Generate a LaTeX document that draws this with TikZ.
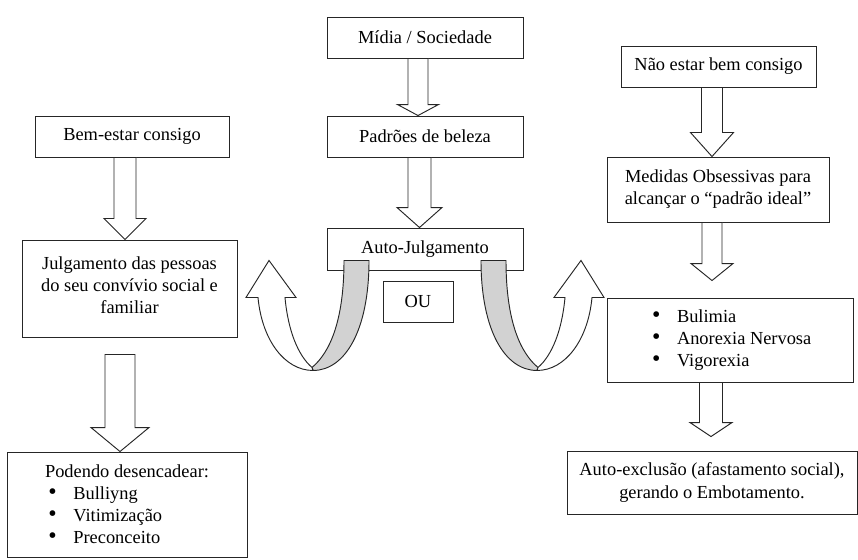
\documentclass[tikz,border=0pt]{standalone}
\usepackage{fontspec}
\setmainfont{Liberation Serif}
\usetikzlibrary{calc}

\tikzset{
  caixa/.style={draw=black!85, line width=0.8pt, fill=white, inner sep=2pt, align=center,
    font=\fontsize{15.7}{18.8}\selectfont},
  oco/.style={draw=black!85, line width=0.8pt, fill=white, line join=miter},
  faixa/.style={draw=black!85, line width=0.8pt, fill=gray!35},
}
\newcommand{\marca}[1]{\hspace*{0.1cm}\makebox[0.75cm][l]{\scalebox{1.3}{\textbullet}}#1}
% seta oca: inicio, ponta, meia largura haste, meia largura cabeca, altura cabeca
\newcommand{\setaoca}[5]{%
  \draw[oco] ($(#1)+(-#3,0)$) -- ($(#2)+(-#3,-#5)$) -- ($(#2)+(-#4,-#5)$) -- (#2)
    -- ($(#2)+(#4,-#5)$) -- ($(#2)+(#3,-#5)$) -- ($(#1)+(#3,0)$) -- cycle;}

\begin{document}
\begin{tikzpicture}[x=0.03cm,y=-0.03cm]
    \path[fill=white] (0,0) rectangle (858,560);

    % coluna central
    \node[caixa, minimum width=5.88cm, minimum height=1.23cm] (midia) at (425,37.5) {Mídia / Sociedade};
    \node[caixa, minimum width=5.88cm, minimum height=1.23cm] (padroes) at (425,136.5) {Padrões de beleza};
    \node[caixa, minimum width=5.88cm, minimum height=1.26cm] (auto) at (425,249) {Auto-Julgamento};
    \node[caixa, minimum width=2.1cm, minimum height=1.23cm] (ou) at (418,301.5) {OU};

    % coluna esquerda
    \node[caixa, minimum width=5.82cm, minimum height=1.23cm] (bem) at (132,136.5) {Bem-estar consigo};
    \node[caixa, minimum width=6.45cm, minimum height=2.91cm] (julg) at (129.5,288.5)
        {Julgamento das pessoas\\do seu convívio social e\\familiar\\[-0.45cm]};
    \node[caixa, minimum width=7.2cm, minimum height=3.15cm, align=left] (pode) at (127,504.5)
        {Podendo desencadear:\\\marca{Bulliyng}\\\marca{Vitimização}\\\marca{Preconceito}};

    % coluna direita
    \node[caixa, minimum width=5.85cm, minimum height=1.23cm] (nao) at (718.5,66.5) {Não estar bem consigo};
    \node[caixa, minimum width=6.66cm, minimum height=1.95cm] (medidas) at (718,189.5)
        {Medidas Obsessivas para\\alcançar o ``padrão ideal''};
    \node[caixa, minimum width=7.38cm, minimum height=2.52cm, align=left] (bul) at (730,340)
        {\marca{Bulimia}\\\marca{Anorexia Nervosa}\\\marca{Vigorexia}};
    \node[caixa, minimum width=8.7cm, minimum height=1.89cm] (exclusao) at (712,482.5)
        {Auto-exclusão (afastamento social),\\gerando o Embotamento.};

    % setas ocas
    \coordinate (s1) at ($(midia.south)+(-7,0)$);
    \setaoca{s1}{s1 |- padroes.north}{10}{20.5}{11}
    \coordinate (s2) at ($(padroes.south)+(-5.5,0)$);
    \setaoca{s2}{s2 |- auto.north}{11.5}{22.5}{20}
    \coordinate (s3) at ($(bem.south)+(-7,0)$);
    \setaoca{s3}{s3 |- julg.north}{11}{21}{21}
    \coordinate (s4) at ($(julg.south)+(-9.5,17)$);
    \setaoca{s4}{s4 |- pode.north}{15}{29}{24}
    \coordinate (s5) at ($(nao.south)+(-6.5,0)$);
    \setaoca{s5}{s5 |- medidas.north}{10.5}{21.5}{24}
    \coordinate (s6) at ($(medidas.south)+(-6,0)$);
    \coordinate (t6) at ($(bul.north)+(0,-17)$);
    \setaoca{s6}{s6 |- t6}{10}{21}{17}
    \coordinate (s7) at ($(bul.south)+(-19,0)$);
    \coordinate (t7) at ($(exclusao.north)+(0,-14)$);
    \setaoca{s7}{s7 |- t7}{11.5}{21}{14}

    % setas em U saindo do auto-julgamento
    \foreach \lado in {1,-1}{
        \begin{scope}[shift={(auto.south)}, xscale=\lado]
            \draw[faixa] (-81,-10) -- (-56,-10) .. controls (-56,60) and (-80,100) .. (-112,100)
                -- (-113,97) .. controls (-95,82) and (-81,50) .. (-81,-10) -- cycle;
            \draw[oco] (-113,97) .. controls (-127,85) and (-137,60) .. (-140,27) -- (-129,27)
                -- (-156,-10) -- (-179,27) -- (-167,27) .. controls (-163,70) and (-140,100) .. (-112,100)
                -- cycle;
        \end{scope}
    }
\end{tikzpicture}
\end{document}
